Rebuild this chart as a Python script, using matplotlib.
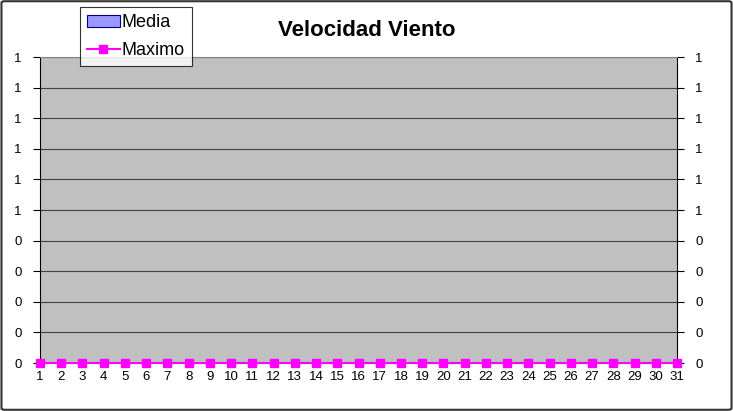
"""Velocidad Viento chart recreation."""

import matplotlib
matplotlib.use("Agg")
import matplotlib.pyplot as plt
import numpy as np
from matplotlib.patches import FancyBboxPatch
from matplotlib.ticker import FuncFormatter

plt.rcParams["font.family"] = ["Liberation Sans", "DejaVu Sans"]

days = list(range(1, 32))
media = [0] * 31
maximo = [0] * 31
y_ticks = [0.0, 0.1, 0.2, 0.3, 0.4, 0.5, 0.6, 0.7, 0.8, 0.9, 1.0]


def excel_int(value, _pos=None):
    # Excel "0" number format: rounds half up
    return f"{int(np.floor(value + 0.5 + 1e-9))}"


fig = plt.figure(figsize=(7.33, 4.11), dpi=100)
fig.patches.append(
    FancyBboxPatch((0.002, 0.003), 0.996, 0.994, boxstyle="round,pad=0,rounding_size=0.004",
                   transform=fig.transFigure, fill=False, ec="#333333", lw=1.5)
)
ax = fig.add_axes([40 / 733, 48 / 411, 637 / 733, 306 / 411])
ax.set_facecolor("#c0c0c0")

bars = ax.bar(days, media, width=0.6, color="#9999ff", edgecolor="#000080", lw=0.8)
line, = ax.plot(days, maximo, color="#ff00ff", lw=1.5, marker="s", ms=6, clip_on=False,
                zorder=5)

ax.set_xlim(1, 31)
ax.set_ylim(0, 1)
ax.set_xticks(days)
ax.set_yticks(y_ticks)
ax.yaxis.set_major_formatter(FuncFormatter(excel_int))
ax.tick_params(axis="y", direction="out", length=5, width=0.8, color="#000000",
               labelsize=9.5, pad=8, right=True, labelright=True)
ax.tick_params(axis="x", length=0, labelsize=9.5, pad=6)
ax.grid(axis="y", color="#404040", lw=0.8)
ax.set_axisbelow(True)
for side in ("left", "right"):
    ax.spines[side].set_color("#000000")
    ax.spines[side].set_linewidth(0.8)
ax.spines["top"].set_color("#808080")
ax.spines["bottom"].set_color("#808080")

fig.text(0.5, 0.927, "Velocidad Viento", ha="center", va="center",
         fontsize=16, fontweight="bold")

leg = fig.legend([bars, line], ["Media", "Maximo"], loc="upper left",
                 bbox_to_anchor=(80 / 733, 1 - 7 / 411),
                 fontsize=13, frameon=True, fancybox=False, edgecolor="#000000",
                 handlelength=1.8, handleheight=0.6, handletextpad=0.1, borderpad=0.4,
                 labelspacing=0.6, borderaxespad=0)
leg.get_frame().set_linewidth(0.8)

fig.savefig("out.png", dpi=100)
